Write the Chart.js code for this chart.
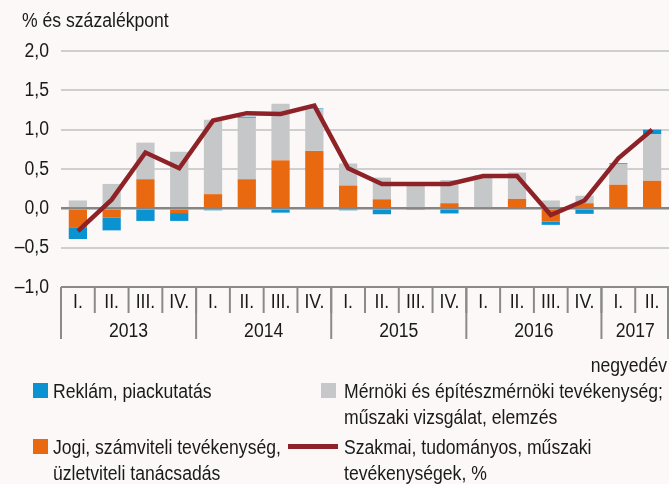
<!DOCTYPE html>
<html lang="hu">
<head>
<meta charset="utf-8">
<script src="https://cdn.jsdelivr.net/npm/chart.js@4/dist/chart.umd.min.js"></script>
<style>
  html, body { margin: 0; padding: 0; background: #fbf8f7; }
  #wrap { position: relative; width: 669px; height: 484px; font-family: "Liberation Sans", Arial, sans-serif; color: #1a1a1a; }
  #grafico { position: absolute; left: 0; top: 0; }
  .jel { position: absolute; font-size: 20px; line-height: 26px; white-space: nowrap; transform-origin: 0 0; transform: scaleX(0.88); }
  .negyzet { position: absolute; width: 15px; height: 15px; }
  .vonal { position: absolute; height: 5px; background: #8e2226; }
</style>
</head>
<body>
<div id="wrap">
  <canvas id="grafico" width="669" height="484"></canvas>
  <div class="negyzet" style="left:33px;top:383px;background:#0a93d0"></div>
  <div class="jel" style="left:53px;top:378px">Reklám, piackutatás</div>
  <div class="negyzet" style="left:321px;top:383px;background:#c6c7c9"></div>
  <div class="jel" style="left:344px;top:378px">Mérnöki és építészmérnöki tevékenység;<br>műszaki vizsgálat, elemzés</div>
  <div class="negyzet" style="left:33px;top:439px;background:#e8690f"></div>
  <div class="jel" style="left:53px;top:434px">Jogi, számviteli tevékenység,<br>üzletviteli tanácsadás</div>
  <div class="vonal" style="left:288px;top:444px;width:50px"></div>
  <div class="jel" style="left:344px;top:434px">Szakmai, tudományos, műszaki<br>tevékenységek, %</div>
</div>
<script>
const negyedevek = ['I.', 'II.', 'III.', 'IV.', 'I.', 'II.', 'III.', 'IV.', 'I.', 'II.', 'III.', 'IV.', 'I.', 'II.', 'III.', 'IV.', 'I.', 'II.'];
const evek = ['2013', '2014', '2015', '2016', '2017'];
const evHossz = [4, 4, 4, 4, 2];

const jogi = [-0.24, -0.12, 0.37, -0.06, 0.18, 0.37, 0.61, 0.73, 0.29, 0.115, 0, 0.065, 0, 0.12, -0.17, 0.065, 0.30, 0.35];
const mernoki = [0.10, 0.31, 0.465, 0.72, 0.945, 0.78, 0.72, 0.53, 0.28, 0.275, 0.31, 0.295, 0.42, 0.335, 0.10, 0.095, 0.265, 0.59];
const reklam = [-0.15, -0.16, -0.16, -0.10, -0.025, 0.015, -0.055, 0.01, -0.025, -0.075, -0.02, -0.065, 0, 0, -0.04, -0.07, 0.01, 0.06];
const szakmai = [-0.29, 0.11, 0.71, 0.51, 1.115, 1.21, 1.2, 1.305, 0.51, 0.31, 0.31, 0.31, 0.41, 0.41, -0.085, 0.10, 0.635, 1.0];

const betu = '20px "Liberation Sans", Arial, sans-serif';

// keskenyített szöveg (az eredeti Arial Narrow-szerű)
function irj(ctx, szoveg, x, y, igazit) {
    ctx.save();
    ctx.translate(x, y);
    ctx.scale(0.88, 1);
    ctx.textAlign = igazit;
    ctx.fillText(szoveg, 0, 0);
    ctx.restore();
}

function tickFelirat(value) {
    const s = Math.abs(value).toFixed(1).replace('.', ',');
    return value < 0 ? '\u2013' + s : s;
}

// x tengely dobozai, évek, feliratok
const tengelyPlugin = {
    id: 'tengely',
    afterDraw(chart) {
        const ctx = chart.ctx;
        const x = chart.scales.x;
        const y = chart.scales.y;
        const bal = chart.chartArea.left;
        const jobb = chart.chartArea.right;
        const szel = (jobb - bal) / negyedevek.length;
        const teto = y.getPixelForValue(-1);

        ctx.save();
        ctx.strokeStyle = '#8a8a8a';
        ctx.lineWidth = 2;
        ctx.beginPath();
        ctx.moveTo(bal, teto);
        ctx.lineTo(jobb, teto);
        ctx.stroke();

        ctx.fillStyle = '#1a1a1a';
        ctx.textBaseline = 'middle';
        ctx.font = betu;

        y.ticks.forEach(t => {
            irj(ctx, tickFelirat(t.value), 49, y.getPixelForValue(t.value), 'right');
        });

        negyedevek.forEach((q, i) => {
            const kozep = x.getPixelForValue(i);
            irj(ctx, q, kozep, teto + 15, 'center');
            const hatar = kozep - szel / 2;
            ctx.beginPath();
            ctx.moveTo(hatar, teto);
            ctx.lineTo(hatar, teto + 26);
            ctx.stroke();
        });

        let kezd = 0;
        evek.forEach((ev, i) => {
            const x1 = bal + kezd * szel;
            const x2 = x1 + evHossz[i] * szel;
            irj(ctx, ev, (x1 + x2) / 2, teto + 44, 'center');
            ctx.beginPath();
            ctx.moveTo(x1, teto);
            ctx.lineTo(x1, teto + 52);
            ctx.stroke();
            kezd += evHossz[i];
        });
        ctx.beginPath();
        ctx.moveTo(jobb - 1, teto);
        ctx.lineTo(jobb - 1, teto + 52);
        ctx.stroke();

        irj(ctx, 'negyedév', 667, teto + 79, 'right');
        irj(ctx, '% és százalékpont', 22, 21, 'left');
        ctx.restore();
    }
};

const ctx = document.getElementById('grafico').getContext('2d');
new Chart(ctx, {
    type: 'bar',
    data: {
        labels: negyedevek,
        datasets: [
            {
                type: 'line',
                label: 'Szakmai, tudományos, műszaki tevékenységek, %',
                data: szakmai,
                borderColor: '#8e2226',
                borderWidth: 4.5,
                pointRadius: 0,
                tension: 0,
                stack: 'vonal',
                order: 0
            },
            {
                label: 'Jogi, számviteli tevékenység, üzletviteli tanácsadás',
                data: jogi,
                backgroundColor: '#e8690f',
                stack: 'oszlop',
                order: 1
            },
            {
                label: 'Mérnöki és építészmérnöki tevékenység; műszaki vizsgálat, elemzés',
                data: mernoki,
                backgroundColor: '#c6c7c9',
                stack: 'oszlop',
                order: 1
            },
            {
                label: 'Reklám, piackutatás',
                data: reklam,
                backgroundColor: '#0a93d0',
                stack: 'oszlop',
                order: 1
            }
        ]
    },
    options: {
        responsive: false,
        animation: false,
        layout: {
            padding: { top: 51, right: 0, bottom: 197, left: 0 }
        },
        datasets: {
            bar: { categoryPercentage: 1, barPercentage: 0.54 }
        },
        scales: {
            x: {
                display: false,
                stacked: true
            },
            y: {
                stacked: true,
                min: -1,
                max: 2,
                border: { display: false },
                afterFit: function(scale) {
                    scale.width = 61;
                },
                grid: {
                    drawTicks: false,
                    color: function(c) {
                        if (c.tick.value === 0) return '#858585';
                        if (c.tick.value === -1) return 'rgba(0,0,0,0)';
                        return '#cfcfcf';
                    },
                    lineWidth: function(c) {
                        return c.tick.value === 0 ? 2.5 : 2;
                    }
                },
                ticks: {
                    stepSize: 0.5,
                    display: false
                }
            }
        },
        plugins: {
            legend: { display: false },
            tooltip: { enabled: false }
        }
    },
    plugins: [tengelyPlugin]
});
</script>
</body>
</html>
